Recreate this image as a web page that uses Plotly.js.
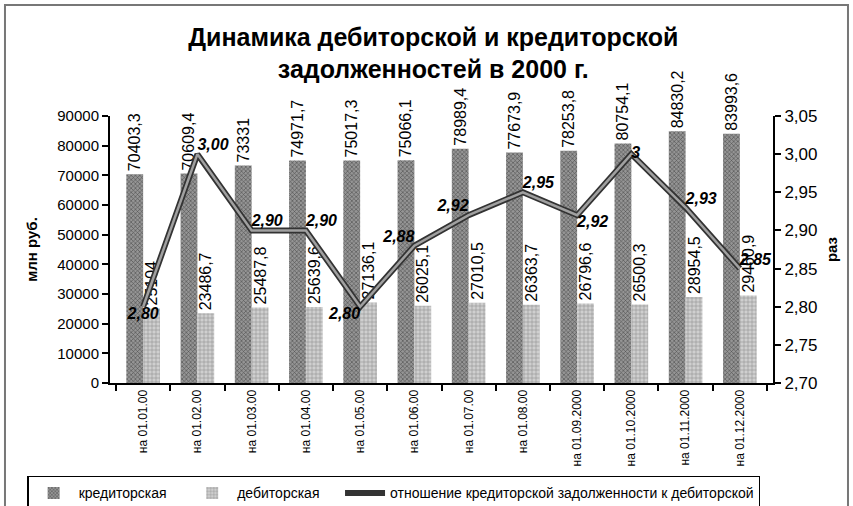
<!DOCTYPE html>
<html>
<head>
<meta charset="utf-8">
<script src="https://cdn.plot.ly/plotly-3.0.1.min.js"></script>
<style>html,body{margin:0;padding:0;background:#fff;}#chart{width:853px;height:506px;}</style>
</head>
<body>
<div id="chart"></div>
<script>
var categories = ["на 01.01.00","на 01.02.00","на 01.03.00","на 01.04.00","на 01.05.00","на 01.06.00","на 01.07.00","на 01.08.00","на 01.09.2000","на 01.10.2000","на 01.11.2000","на 01.12.2000"];
var kreditor = [70403.3, 70609.4, 73331, 74971.7, 75017.3, 75066.1, 78989.4, 77673.9, 78253.8, 80754.1, 84830.2, 83993.6];
var debitor = [25104, 23486.7, 25487.8, 25639.6, 27136.1, 26025.1, 27010.5, 26363.7, 26796.6, 26500.3, 28954.5, 29460.9];
var ratio = [2.80, 3.00, 2.90, 2.90, 2.80, 2.88, 2.92, 2.95, 2.92, 3.00, 2.93, 2.85];
var ratioLabels = ["2,80","3,00","2,90","2,90","2,80","2,88","2,92","2,95","2,92","3","2,93","2,85"];
var seriesNames = ["кредиторская", "дебиторская", "отношение кредиторской задолженности к дебиторской"];
var ratioLabelPos = ["bottom center","top right","top right","top right","bottom left","top left","top left","top right","bottom right","middle right","top right","top right"];

function fmt(v){ return String(v).replace('.', ','); }
var PAD = '\u00a0\u00a0\u00a0\u00a0';

var FONT = 'Liberation Sans, Arial, sans-serif';

var traces = [
  {
    type: 'bar', name: seriesNames[0] + PAD, x: categories, y: kreditor,
    text: kreditor.map(fmt), textposition: 'outside', textangle: -90,
    constraintext: 'none', cliponaxis: false,
    textfont: {family: FONT, size: 16, color: '#000'},
    marker: {color: '#8a8a8a', line: {width: 0},
      pattern: {shape: 'x', fgcolor: '#4e4e4e', bgcolor: '#959595', size: 3, solidity: 0.35}},
    hoverinfo: 'skip'
  },
  {
    type: 'bar', name: seriesNames[1] + PAD, x: categories, y: debitor,
    text: debitor.map(fmt), textposition: 'outside', textangle: -90,
    constraintext: 'none', cliponaxis: false,
    textfont: {family: FONT, size: 16, color: '#000'},
    marker: {color: '#c0c0c0', line: {width: 0},
      pattern: {shape: '+', fgcolor: '#959595', bgcolor: '#cfcfcf', size: 4, solidity: 0.3}},
    hoverinfo: 'skip'
  },
  {
    type: 'scatter', mode: 'lines', name: seriesNames[2],
    x: categories, y: ratio, yaxis: 'y2',
    line: {color: '#333', width: 6}, hoverinfo: 'skip'
  },
  {
    type: 'scatter', mode: 'lines+text', showlegend: false,
    x: categories, y: ratio, yaxis: 'y2',
    text: ratioLabels, textposition: ratioLabelPos, cliponaxis: false,
    textfont: {family: FONT, size: 16, color: '#000', weight: 'bold', style: 'italic'},
    line: {color: '#a0a0a0', width: 2.5}, hoverinfo: 'skip'
  }
];

var layout = {
  width: 853, height: 506,
  margin: {l: 110, r: 80, t: 116, b: 123, autoexpand: false},
  paper_bgcolor: '#fff', plot_bgcolor: '#fff',
  separators: ', ',
  font: {family: FONT, color: '#000'},
  title: {
    text: '<b>Динамика дебиторской и кредиторской<br>задолженностей в 2000 г.</b>',
    font: {family: FONT, size: 25, color: '#000'},
    x: 0.508, xanchor: 'center', y: 0.91, yref: 'container', yanchor: 'middle'
  },
  barmode: 'group', bargap: 0.38, bargroupgap: 0,
  showlegend: true,
  legend: {
    orientation: 'h', x: -0.125, xanchor: 'left', y: -0.348, yanchor: 'top',
    bordercolor: '#000', borderwidth: 1.5, bgcolor: '#fff',
    font: {family: FONT, size: 14, color: '#000'},
    itemwidth: 40, traceorder: 'normal'
  },
  xaxis: {
    type: 'category', showline: true, linecolor: '#000', linewidth: 2,
    ticks: 'outside', tickson: 'boundaries', ticklen: 6, tickwidth: 2, tickcolor: '#000',
    tickangle: -90, tickfont: {family: FONT, size: 12, color: '#000'},
    showgrid: false, zeroline: false
  },
  yaxis: {
    range: [0, 90000], dtick: 10000, tickformat: 'd',
    showline: true, linecolor: '#000', linewidth: 2,
    ticks: 'outside', ticklen: 6, tickwidth: 2, tickcolor: '#000',
    tickfont: {family: FONT, size: 15, color: '#000'},
    showgrid: false, zeroline: false,
    title: {text: '<b>млн руб.</b>', font: {family: FONT, size: 15, color: '#000'}, standoff: 16}
  },
  yaxis2: {
    overlaying: 'y', side: 'right', range: [2.70, 3.05], dtick: 0.05, tickformat: '.2f',
    showline: true, linecolor: '#000', linewidth: 2,
    ticks: 'outside', ticklen: 6, tickwidth: 2, tickcolor: '#000',
    tickfont: {family: FONT, size: 17, color: '#000'},
    showgrid: false, zeroline: false,
    title: {text: '<b>раз</b>', font: {family: FONT, size: 15, color: '#000'}, standoff: 10}
  },
  shapes: [
    {type: 'rect', xref: 'paper', yref: 'paper', x0: -0.1584, x1: 1.1131, y0: -0.6, y1: 1.4157,
     line: {color: '#777', width: 2}, fillcolor: 'rgba(0,0,0,0)', layer: 'below'}
  ]
};

Plotly.newPlot('chart', traces, layout, {staticPlot: true, displayModeBar: false});
</script>
</body>
</html>
